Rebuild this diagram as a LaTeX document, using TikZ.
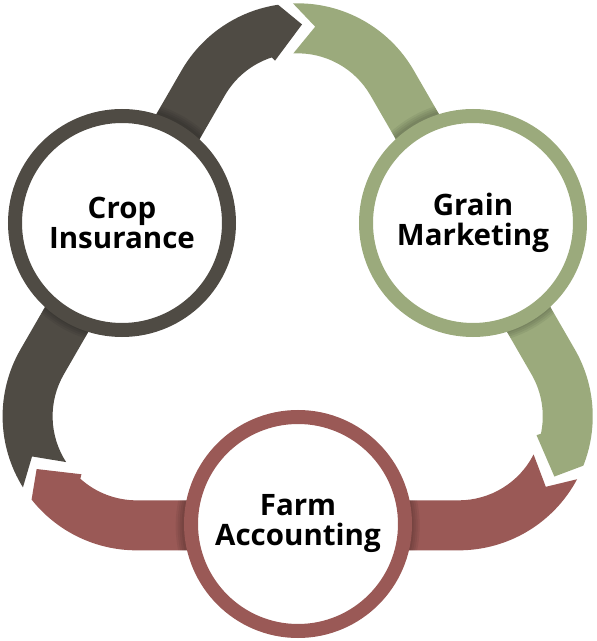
\documentclass[tikz,border=0pt]{standalone}
\usepackage{fontspec}
\setmainfont{Open Sans}
\usetikzlibrary{calc}
\definecolor{slatex}{HTML}{4F4B44}
\definecolor{sagex}{HTML}{9BAA7C}
\definecolor{rustx}{HTML}{9A5956}
\tikzset{
  ring/.style={circle,draw=#1,line width=14pt,fill=white,minimum size=214pt,inner sep=0pt,
    align=center,font=\bfseries\fontsize{29.5}{30}\selectfont}
}
% one band of the cycle, drawn for the crop side and turned round G
\newcommand{\bandshape}{(to) arc[start angle=212,end angle=150,radius=134] -- ++(60:322.16)
  arc[start angle=150,end angle=98.4,radius=134] -- (ht) -- (hi) -- (hk)
  arc[start angle=108,end angle=150,radius=84] -- ++(240:322.16)
  arc[start angle=150,end angle=213,radius=84] -- (tv) -- cycle}
\newcommand{\cycband}[2]{%
  \begin{scope}[shift={(G)},rotate=#1]
  \coordinate (Ft) at (90:186);
  \coordinate (Fb) at (210:186);
  \path (Fb) ++(212:134) coordinate (to)
        (Fb) ++(201:112) coordinate (tv)
        (Fb) ++(213:84) coordinate (ti)
        (Ft) ++(87.8:113) coordinate (ht)
        (Ft) ++(106.4:80) coordinate (hi)
        (Ft) ++(108:84) coordinate (hk);
  \fill[#2] \bandshape;
  \begin{scope}
    \clip \bandshape;
    \foreach \s in {8,6,4,2}{\fill[black,opacity=.06] (150:202.3) circle (114+\s);}
  \end{scope}
  \end{scope}}

\begin{document}
\begin{tikzpicture}[x=1pt,y=1pt]
\useasboundingbox (0,0) rectangle (597,641);
\coordinate (G) at (297.67,317.67);
\cycband{0}{slatex}
\cycband{-120}{sagex}
\cycband{120}{rustx}
\node[ring=slatex] (crop) at (122,418) {Crop\\Insurance};
\node[ring=sagex] (grain) at (473,418) {Grain\\Marketing};
\node[ring=rustx] (farm) at (298,117) {Farm\\Accounting};
\end{tikzpicture}
\end{document}
